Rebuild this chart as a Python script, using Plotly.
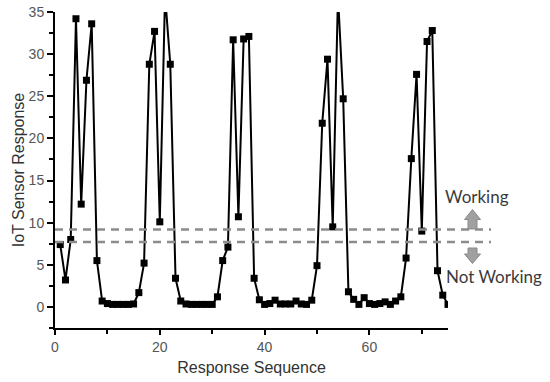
import plotly.graph_objects as go

# ---- data ----
sequence = list(range(1, 76))
response = [
    7.4, 3.2, 8.0, 34.2, 12.2, 26.9, 33.6, 5.5, 0.7, 0.4,
    0.3, 0.3, 0.3, 0.3, 0.35, 1.7, 5.2, 28.8, 32.7, 10.1,
    37.0, 28.8, 3.4, 0.7, 0.35, 0.3, 0.3, 0.3, 0.3, 0.3,
    1.2, 5.5, 7.1, 31.7, 10.7, 31.8, 32.1, 3.4, 0.85, 0.3,
    0.4, 0.8, 0.35, 0.35, 0.35, 0.7, 0.35, 0.3, 0.8, 4.9,
    21.8, 29.4, 9.5, 37.0, 24.7, 1.8, 0.9, 0.3, 1.1, 0.4,
    0.3, 0.4, 0.6, 0.3, 0.7, 1.2, 5.8, 17.6, 27.6, 9.0,
    31.5, 32.8, 4.3, 1.4, 0.3,
]
thresholds = [9.2, 7.7]
x_ticks = [0, 20, 40, 60]
x_minor = [10, 30, 50, 70]
x_range = [0, 75]
y_range = [-2.5, 35]

# ---- figure ----
W, H = 550, 382
ML, MR, MT, MB = 55, 102, 12, 54
pw, ph = W - ML - MR, H - MT - MB

def px_to_paper_x(px):
    return (px - ML) / pw

def px_to_paper_y(py):
    return (H - MB - py) / ph

def y_to_paper(v):
    return (v - y_range[0]) / (y_range[1] - y_range[0])

fig = go.Figure()
fig.add_trace(go.Scatter(
    x=sequence, y=response, mode="lines+markers",
    line=dict(color="black", width=2),
    marker=dict(symbol="square", size=7, color="black"),
    showlegend=False,
))

shapes = []
for t in thresholds:
    yp = y_to_paper(t)
    shapes.append(dict(type="line", xref="paper", yref="paper",
                       x0=0, x1=px_to_paper_x(491), y0=yp, y1=yp,
                       line=dict(color="#8c8c8c", width=2.5, dash="8px,6px")))

def arrow_path(cx, y_tail, y_base, y_tip, shaft_hw=4.5, head_hw=8):
    pts = [(cx - shaft_hw, y_tail), (cx - shaft_hw, y_base), (cx - head_hw, y_base),
           (cx, y_tip), (cx + head_hw, y_base), (cx + shaft_hw, y_base), (cx + shaft_hw, y_tail)]
    d = "M " + " L ".join(f"{px_to_paper_x(x):.4f},{px_to_paper_y(y):.4f}" for x, y in pts) + " Z"
    return d

shapes.append(dict(type="path", xref="paper", yref="paper",
                   path=arrow_path(472.5, 229, 219.5, 209.5),
                   fillcolor="#a0a0a0", line=dict(color="#8a8a8a", width=1)))
shapes.append(dict(type="path", xref="paper", yref="paper",
                   path=arrow_path(472.5, 248, 254, 263.5),
                   fillcolor="#a0a0a0", line=dict(color="#8a8a8a", width=1)))

annotations = [
    dict(text="Working", xref="paper", yref="paper", x=px_to_paper_x(477), y=px_to_paper_y(196),
         showarrow=False, xanchor="center", yanchor="middle",
         font=dict(family="Lato", size=17, color="#3a3a3a")),
    dict(text="Not Working", xref="paper", yref="paper", x=px_to_paper_x(444), y=px_to_paper_y(276),
         showarrow=False, xanchor="left", yanchor="middle",
         font=dict(family="Lato", size=17, color="#3a3a3a")),
]

fig.update_layout(
    width=W, height=H,
    margin=dict(l=ML, r=MR, t=MT, b=MB, autoexpand=False),
    plot_bgcolor="white", paper_bgcolor="white",
    shapes=shapes, annotations=annotations,
    xaxis=dict(
        automargin=False,
        range=x_range, tickvals=x_ticks, showgrid=False, zeroline=False,
        showline=True, linecolor="black", linewidth=2,
        ticks="outside", ticklen=5, tickwidth=2, tickcolor="black",
        minor=dict(tickvals=x_minor, ticks="outside", ticklen=4, tickwidth=2, tickcolor="black"),
        tickfont=dict(family="Liberation Sans", size=14, color="#555555"),
        title=dict(text="Response Sequence", standoff=8,
                   font=dict(family="Liberation Sans", size=16, color="#333333")),
    ),
    yaxis=dict(
        automargin=False,
        range=y_range, tick0=0, dtick=5, showgrid=False, zeroline=False,
        showline=True, linecolor="black", linewidth=2,
        ticks="outside", ticklen=6, tickwidth=2, tickcolor="black",
        minor=dict(dtick=2.5, tick0=0, ticks="outside", ticklen=4, tickwidth=2, tickcolor="black"),
        tickfont=dict(family="Liberation Sans", size=14, color="#555555"),
        title=dict(text="IoT Sensor Response", standoff=0,
                   font=dict(family="Liberation Sans", size=16, color="#333333")),
    ),
)

fig.write_html("out.html", config={"displayModeBar": False},
               post_script="document.body.style.margin='0';")
